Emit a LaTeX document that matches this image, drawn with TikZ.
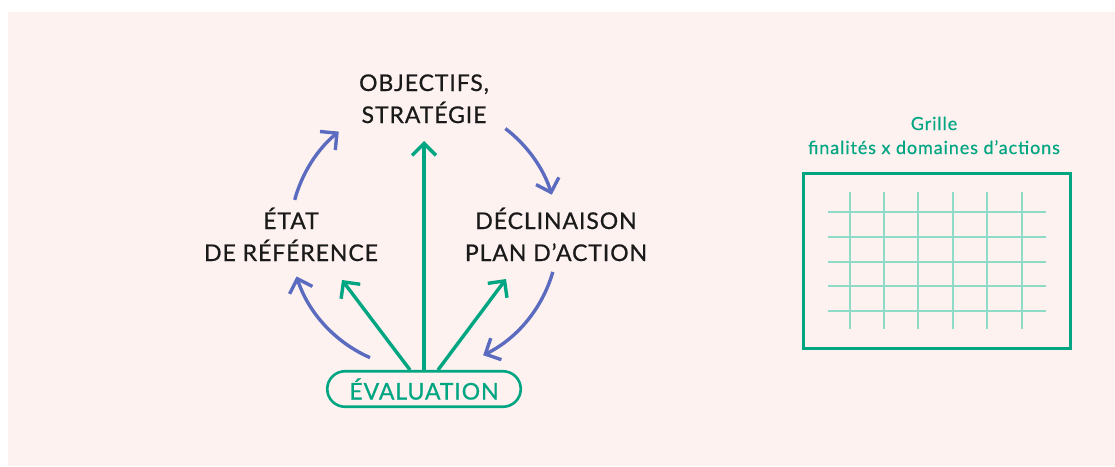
\documentclass[tikz,border=0pt]{standalone}
\usepackage{fontspec}
\setmainfont{Lato}
\newfontfamily\lettres{Lato}[LetterSpace=4, FakeBold=0.7]
\newfontfamily\lettresfines{Lato}[LetterSpace=5, FakeBold=0.4]
\usetikzlibrary{arrows.meta}
\definecolor{fond}{HTML}{FDF2EF}
\definecolor{vert}{HTML}{00A582}
\definecolor{vertclair}{HTML}{8EDCC8}
\definecolor{bleu}{HTML}{5B6BC0}
\definecolor{encre}{HTML}{1A1A1A}
\begin{document}
\begin{tikzpicture}[x=1pt,y=-1pt,
  etiquette/.style={font=\lettres\fontsize{23}{32}\selectfont, text=encre, align=center, inner sep=0pt, anchor=base},
  titre/.style={font=\lettresfines\fontsize{18}{24}\selectfont, text=vert, align=center, inner sep=0pt, anchor=base},
  flvert/.style={draw=vert, line width=3.4pt, -{Straight Barb[length=12pt,width=24pt]}},
  flbleu/.style={draw=bleu, line width=3.4pt, -{Straight Barb[length=12pt,width=24pt]}},
  evalbox/.style={draw=vert, line width=2.6pt, rounded corners=17.7pt, minimum width=193.5pt, minimum height=35.5pt, inner sep=0pt, text=vert, font=\lettres\fontsize{23}{26}\selectfont},
  cadre/.style={draw=vert, line width=2.6pt, minimum width=267.5pt, minimum height=175.5pt, inner sep=0pt},
  maille/.style={draw=vertclair, line width=2pt}
]
\useasboundingbox (0,0) rectangle (1115,466);
\fill[fond] (8,12) rectangle (1115,466);

% labels (anchor base = baseline of the last line)
\node[etiquette] (obj) at (424,123) {OBJECTIFS,\\STRATÉGIE};
\node[etiquette] (etat) at (291,261) {ÉTAT\\DE RÉFÉRENCE};
\node[etiquette] (decl) at (556,261) {DÉCLINAISON\\PLAN D’ACTION};
\node[evalbox] (ev) at (424,389) {ÉVALUATION};

% circle of blue arrows
\coordinate (C) at (424,235);
\path (C) ++(-246.25:134) coordinate (b1s);
\path (C) ++(-164.8:134) coordinate (b2s);
\path (C) ++(-52.6:134) coordinate (b3s);
\path (C) ++(16:134) coordinate (b4s);
\draw[flbleu] (b1s) arc[start angle=-246.25, end angle=-198, radius=134];
\draw[flbleu] (b2s) arc[start angle=-164.8, end angle=-129.5, radius=134];
\draw[flbleu] (b3s) arc[start angle=-52.6, end angle=-17.5, radius=134];
\draw[flbleu] (b4s) arc[start angle=16, end angle=63.8, radius=134];

% green arrows
\coordinate (g1) at (342,280);
\coordinate (g2) at (424,141);
\coordinate (g3) at (506,279);
\draw[flvert] ([xshift=-14pt]ev.north) -- (g1);
\draw[flvert] (ev.north) -- (g2);
\draw[flvert] ([xshift=14pt]ev.north) -- (g3);

% grid
\node[titre] (tg) at (934,154) {Grille\\finalités x domaines d’actions};
\node[cadre] (grille) at (937,261) {};
\foreach \x in {850,884.3,918.3,952.7,987.3,1021.7}
  \draw[maille] (\x,192) -- (\x,329);
\foreach \y in {211.7,236.7,261.7,286,311}
  \draw[maille] (828,\y) -- (1046,\y);
\end{tikzpicture}
\end{document}
